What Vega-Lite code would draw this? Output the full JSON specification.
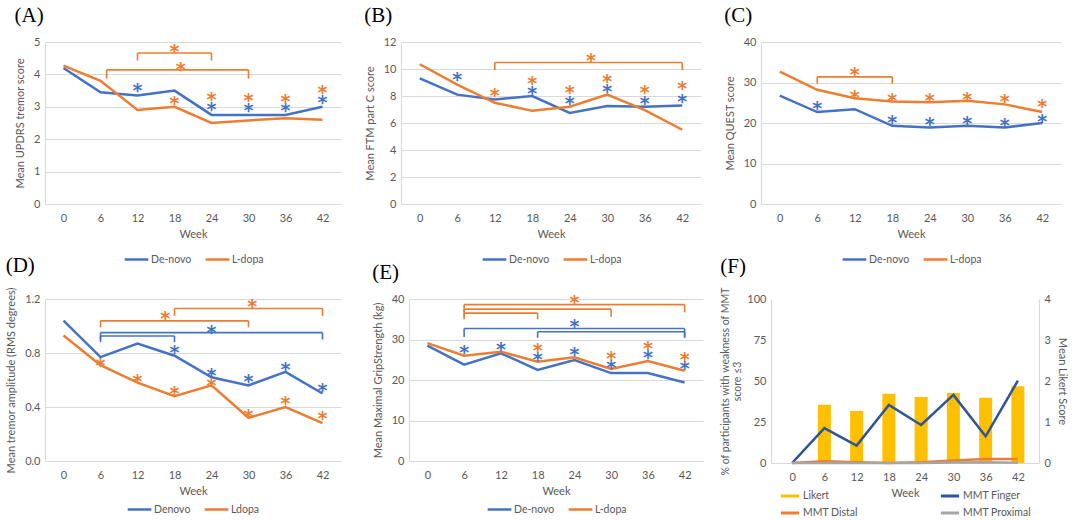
{
  "$schema": "https://vega.github.io/schema/vega-lite/v6.json",
  "padding": {"left": 5, "top": 5, "right": 0, "bottom": 0},
  "background": "white",
  "datasets": {
    "lines": [
      {"panel": "A", "series": "De-novo", "week": 0, "value": 4.2},
      {"panel": "A", "series": "De-novo", "week": 6, "value": 3.45},
      {"panel": "A", "series": "De-novo", "week": 12, "value": 3.35},
      {"panel": "A", "series": "De-novo", "week": 18, "value": 3.5},
      {"panel": "A", "series": "De-novo", "week": 24, "value": 2.75},
      {"panel": "A", "series": "De-novo", "week": 30, "value": 2.75},
      {"panel": "A", "series": "De-novo", "week": 36, "value": 2.75},
      {"panel": "A", "series": "De-novo", "week": 42, "value": 3.0},
      {"panel": "A", "series": "L-dopa", "week": 0, "value": 4.27},
      {"panel": "A", "series": "L-dopa", "week": 6, "value": 3.8},
      {"panel": "A", "series": "L-dopa", "week": 12, "value": 2.9},
      {"panel": "A", "series": "L-dopa", "week": 18, "value": 3.0},
      {"panel": "A", "series": "L-dopa", "week": 24, "value": 2.5},
      {"panel": "A", "series": "L-dopa", "week": 30, "value": 2.58},
      {"panel": "A", "series": "L-dopa", "week": 36, "value": 2.65},
      {"panel": "A", "series": "L-dopa", "week": 42, "value": 2.6},
      {"panel": "B", "series": "De-novo", "week": 0, "value": 9.3},
      {"panel": "B", "series": "De-novo", "week": 6, "value": 8.1},
      {"panel": "B", "series": "De-novo", "week": 12, "value": 7.75},
      {"panel": "B", "series": "De-novo", "week": 18, "value": 8.0},
      {"panel": "B", "series": "De-novo", "week": 24, "value": 6.75},
      {"panel": "B", "series": "De-novo", "week": 30, "value": 7.25},
      {"panel": "B", "series": "De-novo", "week": 36, "value": 7.2},
      {"panel": "B", "series": "De-novo", "week": 42, "value": 7.3},
      {"panel": "B", "series": "L-dopa", "week": 0, "value": 10.35},
      {"panel": "B", "series": "L-dopa", "week": 6, "value": 8.85},
      {"panel": "B", "series": "L-dopa", "week": 12, "value": 7.5},
      {"panel": "B", "series": "L-dopa", "week": 18, "value": 6.9},
      {"panel": "B", "series": "L-dopa", "week": 24, "value": 7.2},
      {"panel": "B", "series": "L-dopa", "week": 30, "value": 8.1},
      {"panel": "B", "series": "L-dopa", "week": 36, "value": 6.95},
      {"panel": "B", "series": "L-dopa", "week": 42, "value": 5.5},
      {"panel": "C", "series": "De-novo", "week": 0, "value": 26.75},
      {"panel": "C", "series": "De-novo", "week": 6, "value": 22.7},
      {"panel": "C", "series": "De-novo", "week": 12, "value": 23.4},
      {"panel": "C", "series": "De-novo", "week": 18, "value": 19.3},
      {"panel": "C", "series": "De-novo", "week": 24, "value": 18.9},
      {"panel": "C", "series": "De-novo", "week": 30, "value": 19.3},
      {"panel": "C", "series": "De-novo", "week": 36, "value": 18.9},
      {"panel": "C", "series": "De-novo", "week": 42, "value": 20.0},
      {"panel": "C", "series": "L-dopa", "week": 0, "value": 32.7},
      {"panel": "C", "series": "L-dopa", "week": 6, "value": 28.2},
      {"panel": "C", "series": "L-dopa", "week": 12, "value": 26.1},
      {"panel": "C", "series": "L-dopa", "week": 18, "value": 25.3},
      {"panel": "C", "series": "L-dopa", "week": 24, "value": 25.1},
      {"panel": "C", "series": "L-dopa", "week": 30, "value": 25.5},
      {"panel": "C", "series": "L-dopa", "week": 36, "value": 24.6},
      {"panel": "C", "series": "L-dopa", "week": 42, "value": 22.7},
      {"panel": "D", "series": "Denovo", "week": 0, "value": 1.04},
      {"panel": "D", "series": "Denovo", "week": 6, "value": 0.77},
      {"panel": "D", "series": "Denovo", "week": 12, "value": 0.87},
      {"panel": "D", "series": "Denovo", "week": 18, "value": 0.78},
      {"panel": "D", "series": "Denovo", "week": 24, "value": 0.62},
      {"panel": "D", "series": "Denovo", "week": 30, "value": 0.56},
      {"panel": "D", "series": "Denovo", "week": 36, "value": 0.66},
      {"panel": "D", "series": "Denovo", "week": 42, "value": 0.5},
      {"panel": "D", "series": "Ldopa", "week": 0, "value": 0.93},
      {"panel": "D", "series": "Ldopa", "week": 6, "value": 0.71},
      {"panel": "D", "series": "Ldopa", "week": 12, "value": 0.58},
      {"panel": "D", "series": "Ldopa", "week": 18, "value": 0.48},
      {"panel": "D", "series": "Ldopa", "week": 24, "value": 0.56},
      {"panel": "D", "series": "Ldopa", "week": 30, "value": 0.32},
      {"panel": "D", "series": "Ldopa", "week": 36, "value": 0.4},
      {"panel": "D", "series": "Ldopa", "week": 42, "value": 0.28},
      {"panel": "E", "series": "De-novo", "week": 0, "value": 28.5},
      {"panel": "E", "series": "De-novo", "week": 6, "value": 23.8},
      {"panel": "E", "series": "De-novo", "week": 12, "value": 26.6},
      {"panel": "E", "series": "De-novo", "week": 18, "value": 22.5},
      {"panel": "E", "series": "De-novo", "week": 24, "value": 24.9},
      {"panel": "E", "series": "De-novo", "week": 30, "value": 21.7},
      {"panel": "E", "series": "De-novo", "week": 36, "value": 21.7},
      {"panel": "E", "series": "De-novo", "week": 42, "value": 19.4},
      {"panel": "E", "series": "L-dopa", "week": 0, "value": 29.1},
      {"panel": "E", "series": "L-dopa", "week": 6, "value": 26.0},
      {"panel": "E", "series": "L-dopa", "week": 12, "value": 27.0},
      {"panel": "E", "series": "L-dopa", "week": 18, "value": 24.5},
      {"panel": "E", "series": "L-dopa", "week": 24, "value": 25.6},
      {"panel": "E", "series": "L-dopa", "week": 30, "value": 22.7},
      {"panel": "E", "series": "L-dopa", "week": 36, "value": 24.7},
      {"panel": "E", "series": "L-dopa", "week": 42, "value": 22.3},
      {"panel": "F", "series": "Likert", "week": 6, "value": 1.42},
      {"panel": "F", "series": "Likert", "week": 12, "value": 1.27},
      {"panel": "F", "series": "Likert", "week": 18, "value": 1.69},
      {"panel": "F", "series": "Likert", "week": 24, "value": 1.61},
      {"panel": "F", "series": "Likert", "week": 30, "value": 1.71},
      {"panel": "F", "series": "Likert", "week": 36, "value": 1.59},
      {"panel": "F", "series": "Likert", "week": 42, "value": 1.87},
      {"panel": "F", "series": "MMT Finger", "week": 0, "value": 0},
      {"panel": "F", "series": "MMT Finger", "week": 6, "value": 21.3},
      {"panel": "F", "series": "MMT Finger", "week": 12, "value": 10.6},
      {"panel": "F", "series": "MMT Finger", "week": 18, "value": 35.4},
      {"panel": "F", "series": "MMT Finger", "week": 24, "value": 23.2},
      {"panel": "F", "series": "MMT Finger", "week": 30, "value": 41.5},
      {"panel": "F", "series": "MMT Finger", "week": 36, "value": 16.3},
      {"panel": "F", "series": "MMT Finger", "week": 42, "value": 50.2},
      {"panel": "F", "series": "MMT Distal", "week": 0, "value": 0},
      {"panel": "F", "series": "MMT Distal", "week": 6, "value": 1.0},
      {"panel": "F", "series": "MMT Distal", "week": 12, "value": 0.5},
      {"panel": "F", "series": "MMT Distal", "week": 18, "value": 0},
      {"panel": "F", "series": "MMT Distal", "week": 24, "value": 0.5},
      {"panel": "F", "series": "MMT Distal", "week": 30, "value": 1.5},
      {"panel": "F", "series": "MMT Distal", "week": 36, "value": 2.5},
      {"panel": "F", "series": "MMT Distal", "week": 42, "value": 2.5},
      {"panel": "F", "series": "MMT Proximal", "week": 0, "value": 0},
      {"panel": "F", "series": "MMT Proximal", "week": 6, "value": 0},
      {"panel": "F", "series": "MMT Proximal", "week": 12, "value": 0},
      {"panel": "F", "series": "MMT Proximal", "week": 18, "value": 0},
      {"panel": "F", "series": "MMT Proximal", "week": 24, "value": 0},
      {"panel": "F", "series": "MMT Proximal", "week": 30, "value": 0.3},
      {"panel": "F", "series": "MMT Proximal", "week": 36, "value": 0.5},
      {"panel": "F", "series": "MMT Proximal", "week": 42, "value": 0.2}
    ],
    "stars": [
      {"panel": "A", "series": "De-novo", "week": 12, "value": 3.64},
      {"panel": "A", "series": "De-novo", "week": 24, "value": 3.06},
      {"panel": "A", "series": "De-novo", "week": 30, "value": 3.04},
      {"panel": "A", "series": "De-novo", "week": 36, "value": 3.02},
      {"panel": "A", "series": "De-novo", "week": 42, "value": 3.28},
      {"panel": "A", "series": "L-dopa", "week": 18, "value": 3.25},
      {"panel": "A", "series": "L-dopa", "week": 24, "value": 3.35},
      {"panel": "A", "series": "L-dopa", "week": 30, "value": 3.33},
      {"panel": "A", "series": "L-dopa", "week": 36, "value": 3.3},
      {"panel": "A", "series": "L-dopa", "week": 42, "value": 3.58},
      {"panel": "A", "series": "L-dopa", "week": 18, "value": 4.85},
      {"panel": "A", "series": "L-dopa", "week": 19, "value": 4.3},
      {"panel": "B", "series": "De-novo", "week": 6, "value": 9.52},
      {"panel": "B", "series": "De-novo", "week": 18, "value": 8.5},
      {"panel": "B", "series": "De-novo", "week": 24, "value": 7.78},
      {"panel": "B", "series": "De-novo", "week": 30, "value": 8.64},
      {"panel": "B", "series": "De-novo", "week": 36, "value": 7.78},
      {"panel": "B", "series": "De-novo", "week": 42, "value": 7.95},
      {"panel": "B", "series": "L-dopa", "week": 12, "value": 8.4},
      {"panel": "B", "series": "L-dopa", "week": 18, "value": 9.27},
      {"panel": "B", "series": "L-dopa", "week": 24, "value": 8.6},
      {"panel": "B", "series": "L-dopa", "week": 30, "value": 9.42},
      {"panel": "B", "series": "L-dopa", "week": 36, "value": 8.6},
      {"panel": "B", "series": "L-dopa", "week": 42, "value": 8.9},
      {"panel": "B", "series": "L-dopa", "week": 27.4, "value": 11.0},
      {"panel": "C", "series": "De-novo", "week": 6, "value": 24.6},
      {"panel": "C", "series": "De-novo", "week": 18, "value": 21.3},
      {"panel": "C", "series": "De-novo", "week": 24, "value": 20.7},
      {"panel": "C", "series": "De-novo", "week": 30, "value": 21.1},
      {"panel": "C", "series": "De-novo", "week": 36, "value": 20.4},
      {"panel": "C", "series": "De-novo", "week": 42, "value": 21.5},
      {"panel": "C", "series": "L-dopa", "week": 12, "value": 27.3},
      {"panel": "C", "series": "L-dopa", "week": 18, "value": 26.75},
      {"panel": "C", "series": "L-dopa", "week": 24, "value": 26.6},
      {"panel": "C", "series": "L-dopa", "week": 30, "value": 27.0},
      {"panel": "C", "series": "L-dopa", "week": 36, "value": 26.5},
      {"panel": "C", "series": "L-dopa", "week": 42, "value": 25.1},
      {"panel": "C", "series": "L-dopa", "week": 12, "value": 33.1},
      {"panel": "D", "series": "Denovo", "week": 18, "value": 0.834},
      {"panel": "D", "series": "Denovo", "week": 24, "value": 0.665},
      {"panel": "D", "series": "Denovo", "week": 30, "value": 0.622},
      {"panel": "D", "series": "Denovo", "week": 36, "value": 0.71},
      {"panel": "D", "series": "Denovo", "week": 42, "value": 0.558},
      {"panel": "D", "series": "Denovo", "week": 24, "value": 0.988},
      {"panel": "D", "series": "Ldopa", "week": 6, "value": 0.74},
      {"panel": "D", "series": "Ldopa", "week": 12, "value": 0.62},
      {"panel": "D", "series": "Ldopa", "week": 18, "value": 0.535},
      {"panel": "D", "series": "Ldopa", "week": 24, "value": 0.59},
      {"panel": "D", "series": "Ldopa", "week": 30, "value": 0.366},
      {"panel": "D", "series": "Ldopa", "week": 36, "value": 0.458},
      {"panel": "D", "series": "Ldopa", "week": 42, "value": 0.349},
      {"panel": "D", "series": "Ldopa", "week": 30.6, "value": 1.175},
      {"panel": "D", "series": "Ldopa", "week": 16.5, "value": 1.088},
      {"panel": "E", "series": "De-novo", "week": 6, "value": 27.9},
      {"panel": "E", "series": "De-novo", "week": 12, "value": 28.7},
      {"panel": "E", "series": "De-novo", "week": 18, "value": 26.1},
      {"panel": "E", "series": "De-novo", "week": 24, "value": 27.4},
      {"panel": "E", "series": "De-novo", "week": 30, "value": 24.2},
      {"panel": "E", "series": "De-novo", "week": 36, "value": 26.6},
      {"panel": "E", "series": "De-novo", "week": 42, "value": 23.9},
      {"panel": "E", "series": "De-novo", "week": 24, "value": 34.2},
      {"panel": "E", "series": "L-dopa", "week": 18, "value": 28.3},
      {"panel": "E", "series": "L-dopa", "week": 30, "value": 26.4},
      {"panel": "E", "series": "L-dopa", "week": 36, "value": 28.9},
      {"panel": "E", "series": "L-dopa", "week": 42, "value": 26.2},
      {"panel": "E", "series": "L-dopa", "week": 24, "value": 40.2}
    ],
    "brackets": [
      {"panel": "A", "series": "L-dopa", "week": 12, "week2": 24, "value": 4.66},
      {"panel": "A", "series": "L-dopa", "week": 7, "week2": 30, "value": 4.14},
      {"panel": "B", "series": "L-dopa", "week": 12, "week2": 42, "value": 10.48},
      {"panel": "C", "series": "L-dopa", "week": 6, "week2": 18, "value": 31.4},
      {"panel": "D", "series": "Ldopa", "week": 18, "week2": 42, "value": 1.13},
      {"panel": "D", "series": "Ldopa", "week": 6, "week2": 30, "value": 1.038},
      {"panel": "D", "series": "Denovo", "week": 6, "week2": 42, "value": 0.951},
      {"panel": "D", "series": "Denovo", "week": 6, "week2": 18, "value": 0.926},
      {"panel": "E", "series": "L-dopa", "week": 6, "week2": 42, "value": 38.6},
      {"panel": "E", "series": "L-dopa", "week": 6, "week2": 30, "value": 37.5},
      {"panel": "E", "series": "L-dopa", "week": 6, "week2": 18, "value": 36.5},
      {"panel": "E", "series": "De-novo", "week": 6, "week2": 42, "value": 32.7},
      {"panel": "E", "series": "De-novo", "week": 18, "week2": 42, "value": 31.9}
    ],
    "ticks": [
      {"panel": "A", "series": "L-dopa", "week": 12, "value": 4.66, "low": 4.43},
      {"panel": "A", "series": "L-dopa", "week": 24, "value": 4.66, "low": 4.43},
      {"panel": "A", "series": "L-dopa", "week": 7, "value": 4.14, "low": 3.87},
      {"panel": "A", "series": "L-dopa", "week": 30, "value": 4.14, "low": 3.87},
      {"panel": "B", "series": "L-dopa", "week": 12, "value": 10.48, "low": 9.92},
      {"panel": "B", "series": "L-dopa", "week": 42, "value": 10.48, "low": 9.92},
      {"panel": "C", "series": "L-dopa", "week": 6, "value": 31.4, "low": 29.7},
      {"panel": "C", "series": "L-dopa", "week": 18, "value": 31.4, "low": 29.7},
      {"panel": "D", "series": "Ldopa", "week": 18, "value": 1.13, "low": 1.075},
      {"panel": "D", "series": "Ldopa", "week": 42, "value": 1.13, "low": 1.075},
      {"panel": "D", "series": "Ldopa", "week": 6, "value": 1.038, "low": 0.99},
      {"panel": "D", "series": "Ldopa", "week": 30, "value": 1.038, "low": 0.99},
      {"panel": "D", "series": "Denovo", "week": 6, "value": 0.951, "low": 0.9},
      {"panel": "D", "series": "Denovo", "week": 42, "value": 0.951, "low": 0.9},
      {"panel": "D", "series": "Denovo", "week": 6, "value": 0.926, "low": 0.88},
      {"panel": "D", "series": "Denovo", "week": 18, "value": 0.926, "low": 0.88},
      {"panel": "E", "series": "L-dopa", "week": 6, "value": 38.6, "low": 36.7},
      {"panel": "E", "series": "L-dopa", "week": 42, "value": 38.6, "low": 36.7},
      {"panel": "E", "series": "L-dopa", "week": 6, "value": 37.5, "low": 35.6},
      {"panel": "E", "series": "L-dopa", "week": 30, "value": 37.5, "low": 35.6},
      {"panel": "E", "series": "L-dopa", "week": 6, "value": 36.5, "low": 35.0},
      {"panel": "E", "series": "L-dopa", "week": 18, "value": 36.5, "low": 35.0},
      {"panel": "E", "series": "De-novo", "week": 6, "value": 32.7, "low": 30.6},
      {"panel": "E", "series": "De-novo", "week": 42, "value": 32.7, "low": 30.6},
      {"panel": "E", "series": "De-novo", "week": 18, "value": 31.9, "low": 30.4},
      {"panel": "E", "series": "De-novo", "week": 42, "value": 31.9, "low": 30.4}
    ]
  },
  "columns": 1,
  "align": "none",
  "spacing": -11,
  "resolve": {"scale": {"x": "independent", "y": "independent", "color": "independent"}},
  "concat": [
    {
      "bounds": "flush",
      "spacing": 60,
      "resolve": {"scale": {"x": "independent", "y": "independent", "color": "independent"}},
      "hconcat": [
        {
          "title": "(A)",
          "width": 296,
          "height": 162,
          "encoding": {
            "x": {"field": "week", "type": "quantitative", "scale": {"domain": [-3, 45], "nice": false, "zero": false}, "axis": {"values": [0, 6, 12, 18, 24, 30, 36, 42], "title": "Week"}},
            "y": {"field": "value", "type": "quantitative", "scale": {"domain": [0, 5], "nice": false}, "axis": {"values": [0, 1, 2, 3, 4, 5], "title": "Mean UPDRS tremor score"}},
            "color": {"field": "series", "type": "nominal", "scale": {"domain": ["De-novo", "L-dopa"], "range": ["#4472C4", "#ED7D31"]}, "legend": {"title": null, "offset": 7}}
          },
          "layer": [
            {"data": {"name": "lines"}, "transform": [{"filter": "datum.panel == 'A'"}], "mark": {"type": "line", "strokeWidth": 2.5}},
            {"data": {"name": "brackets"}, "transform": [{"filter": "datum.panel == 'A'"}], "mark": {"type": "rule", "strokeWidth": 1.6}, "encoding": {"x2": {"field": "week2"}}},
            {"data": {"name": "ticks"}, "transform": [{"filter": "datum.panel == 'A'"}], "mark": {"type": "rule", "strokeWidth": 1.6}, "encoding": {"y2": {"field": "low"}}},
            {"data": {"name": "stars"}, "transform": [{"filter": "datum.panel == 'A'"}], "mark": {"type": "text", "text": "*", "font": "DejaVu Sans", "fontWeight": "bold", "fontSize": 19, "baseline": "middle", "dy": 5}}
          ]
        },
        {
          "title": "(B)",
          "width": 300,
          "height": 162,
          "encoding": {
            "x": {"field": "week", "type": "quantitative", "scale": {"domain": [-3, 45], "nice": false, "zero": false}, "axis": {"values": [0, 6, 12, 18, 24, 30, 36, 42], "title": "Week"}},
            "y": {"field": "value", "type": "quantitative", "scale": {"domain": [0, 12], "nice": false}, "axis": {"values": [0, 2, 4, 6, 8, 10, 12], "title": "Mean FTM part C score"}},
            "color": {"field": "series", "type": "nominal", "scale": {"domain": ["De-novo", "L-dopa"], "range": ["#4472C4", "#ED7D31"]}, "legend": {"title": null, "offset": 7}}
          },
          "layer": [
            {"data": {"name": "lines"}, "transform": [{"filter": "datum.panel == 'B'"}], "mark": {"type": "line", "strokeWidth": 2.5}},
            {"data": {"name": "brackets"}, "transform": [{"filter": "datum.panel == 'B'"}], "mark": {"type": "rule", "strokeWidth": 1.6}, "encoding": {"x2": {"field": "week2"}}},
            {"data": {"name": "ticks"}, "transform": [{"filter": "datum.panel == 'B'"}], "mark": {"type": "rule", "strokeWidth": 1.6}, "encoding": {"y2": {"field": "low"}}},
            {"data": {"name": "stars"}, "transform": [{"filter": "datum.panel == 'B'"}], "mark": {"type": "text", "text": "*", "font": "DejaVu Sans", "fontWeight": "bold", "fontSize": 19, "baseline": "middle", "dy": 5}}
          ]
        },
        {
          "title": "(C)",
          "width": 300,
          "height": 162,
          "encoding": {
            "x": {"field": "week", "type": "quantitative", "scale": {"domain": [-3, 45], "nice": false, "zero": false}, "axis": {"values": [0, 6, 12, 18, 24, 30, 36, 42], "title": "Week"}},
            "y": {"field": "value", "type": "quantitative", "scale": {"domain": [0, 40], "nice": false}, "axis": {"values": [0, 10, 20, 30, 40], "title": "Mean QUEST score"}},
            "color": {"field": "series", "type": "nominal", "scale": {"domain": ["De-novo", "L-dopa"], "range": ["#4472C4", "#ED7D31"]}, "legend": {"title": null, "offset": 7}}
          },
          "layer": [
            {"data": {"name": "lines"}, "transform": [{"filter": "datum.panel == 'C'"}], "mark": {"type": "line", "strokeWidth": 2.5}},
            {"data": {"name": "brackets"}, "transform": [{"filter": "datum.panel == 'C'"}], "mark": {"type": "rule", "strokeWidth": 1.6}, "encoding": {"x2": {"field": "week2"}}},
            {"data": {"name": "ticks"}, "transform": [{"filter": "datum.panel == 'C'"}], "mark": {"type": "rule", "strokeWidth": 1.6}, "encoding": {"y2": {"field": "low"}}},
            {"data": {"name": "stars"}, "transform": [{"filter": "datum.panel == 'C'"}], "mark": {"type": "text", "text": "*", "font": "DejaVu Sans", "fontWeight": "bold", "fontSize": 19, "baseline": "middle", "dy": 5}}
          ]
        }
      ]
    },
    {
      "bounds": "flush",
      "spacing": 68,
      "resolve": {"scale": {"x": "independent", "y": "independent", "color": "independent"}},
      "hconcat": [
        {
          "title": "(D)",
          "width": 296,
          "height": 162,
          "encoding": {
            "x": {"field": "week", "type": "quantitative", "scale": {"domain": [-3, 45], "nice": false, "zero": false}, "axis": {"values": [0, 6, 12, 18, 24, 30, 36, 42], "title": "Week"}},
            "y": {"field": "value", "type": "quantitative", "scale": {"domain": [0, 1.2], "nice": false}, "axis": {"values": [0, 0.4, 0.8, 1.2], "format": ".1f", "title": "Mean tremor  amplitude (RMS degrees)"}},
            "color": {"field": "series", "type": "nominal", "scale": {"domain": ["Denovo", "Ldopa"], "range": ["#4472C4", "#ED7D31"]}, "legend": {"title": null, "offset": 0}}
          },
          "layer": [
            {"data": {"name": "lines"}, "transform": [{"filter": "datum.panel == 'D'"}], "mark": {"type": "line", "strokeWidth": 2.5}},
            {"data": {"name": "brackets"}, "transform": [{"filter": "datum.panel == 'D'"}], "mark": {"type": "rule", "strokeWidth": 1.6}, "encoding": {"x2": {"field": "week2"}}},
            {"data": {"name": "ticks"}, "transform": [{"filter": "datum.panel == 'D'"}], "mark": {"type": "rule", "strokeWidth": 1.6}, "encoding": {"y2": {"field": "low"}}},
            {"data": {"name": "stars"}, "transform": [{"filter": "datum.panel == 'D'"}], "mark": {"type": "text", "text": "*", "font": "DejaVu Sans", "fontWeight": "bold", "fontSize": 19, "baseline": "middle", "dy": 5}}
          ]
        },
        {
          "title": "(E)",
          "width": 294,
          "height": 162,
          "encoding": {
            "x": {"field": "week", "type": "quantitative", "scale": {"domain": [-3, 45], "nice": false, "zero": false}, "axis": {"values": [0, 6, 12, 18, 24, 30, 36, 42], "title": "Week"}},
            "y": {"field": "value", "type": "quantitative", "scale": {"domain": [0, 40], "nice": false}, "axis": {"values": [0, 10, 20, 30, 40], "title": "Mean Maximal GripStrength (kg)"}},
            "color": {"field": "series", "type": "nominal", "scale": {"domain": ["De-novo", "L-dopa"], "range": ["#4472C4", "#ED7D31"]}, "legend": {"title": null, "offset": 0}}
          },
          "layer": [
            {"data": {"name": "lines"}, "transform": [{"filter": "datum.panel == 'E'"}], "mark": {"type": "line", "strokeWidth": 2.5}},
            {"data": {"name": "brackets"}, "transform": [{"filter": "datum.panel == 'E'"}], "mark": {"type": "rule", "strokeWidth": 1.6}, "encoding": {"x2": {"field": "week2"}}},
            {"data": {"name": "ticks"}, "transform": [{"filter": "datum.panel == 'E'"}], "mark": {"type": "rule", "strokeWidth": 1.6}, "encoding": {"y2": {"field": "low"}}},
            {"data": {"name": "stars"}, "transform": [{"filter": "datum.panel == 'E'"}], "mark": {"type": "text", "text": "*", "font": "DejaVu Sans", "fontWeight": "bold", "fontSize": 19, "baseline": "middle", "dy": 5}}
          ]
        },
        {
          "title": "(F)",
          "width": 268,
          "height": 164,
          "data": {"name": "lines"},
          "transform": [{"filter": "datum.panel == 'F'"}],
          "encoding": {
            "x": {"field": "week", "type": "quantitative", "scale": {"domain": [-3, 45], "nice": false, "zero": false}, "axis": {"values": [0, 6, 12, 18, 24, 30, 36, 42], "title": "Week"}},
            "color": {
              "field": "series", "type": "nominal",
              "scale": {"domain": ["Likert", "MMT Finger", "MMT Distal", "MMT Proximal"], "range": ["#FFC000", "#2F5597", "#ED7D31", "#A5A5A5"]},
              "legend": {"title": null, "columns": 2, "columnPadding": 76, "rowPadding": 0, "offset": -13, "symbolType": "stroke", "symbolStrokeWidth": 3, "symbolSize": 330, "labelOffset": 2}
            }
          },
          "layer": [
            {
              "transform": [{"filter": "datum.series == 'Likert'"}],
              "mark": {"type": "bar", "size": 13},
              "encoding": {"y": {"field": "value", "type": "quantitative", "scale": {"domain": [0, 4], "nice": false}, "axis": {"orient": "right", "values": [0, 1, 2, 3, 4], "grid": false, "titlePadding": 6, "title": "Mean Likert Score"}}}
            },
            {
              "transform": [{"filter": "datum.series != 'Likert'"}],
              "mark": {"type": "line", "strokeWidth": 2.5},
              "encoding": {"y": {"field": "value", "type": "quantitative", "scale": {"domain": [0, 100], "nice": false}, "axis": {"orient": "left", "values": [0, 25, 50, 75, 100], "titleFontSize": 10.5, "titlePadding": 4, "title": ["% of participants with weakness of MMT", "score ≤3"]}}}
            }
          ],
          "resolve": {"scale": {"y": "independent"}}
        }
      ]
    }
  ],
  "config": {
    "font": "Lato",
    "view": {"stroke": null},
    "title": {"font": "Liberation Serif", "fontSize": 21, "fontWeight": "normal", "color": "#000000", "anchor": "start", "offset": 10},
    "axis": {
      "labelFont": "Lato", "labelFontSize": 11, "labelColor": "#595959",
      "titleFont": "Lato", "titleFontSize": 11, "titleFontWeight": "normal", "titleColor": "#595959",
      "ticks": false, "domainColor": "#D9D9D9", "gridColor": "#D9D9D9"
    },
    "axisX": {"grid": false, "labelPadding": 8, "titlePadding": 5},
    "axisY": {"grid": true, "labelPadding": 5, "titlePadding": 8},
    "legend": {
      "orient": "bottom", "direction": "horizontal", "symbolType": "stroke", "symbolStrokeWidth": 2.5, "symbolSize": 560,
      "labelFont": "Lato", "labelFontSize": 10.5, "labelColor": "#595959", "labelOffset": 1, "columnPadding": 8, "offset": 6,
      "layout": {"bottom": {"anchor": "middle"}}
    }
  }
}
